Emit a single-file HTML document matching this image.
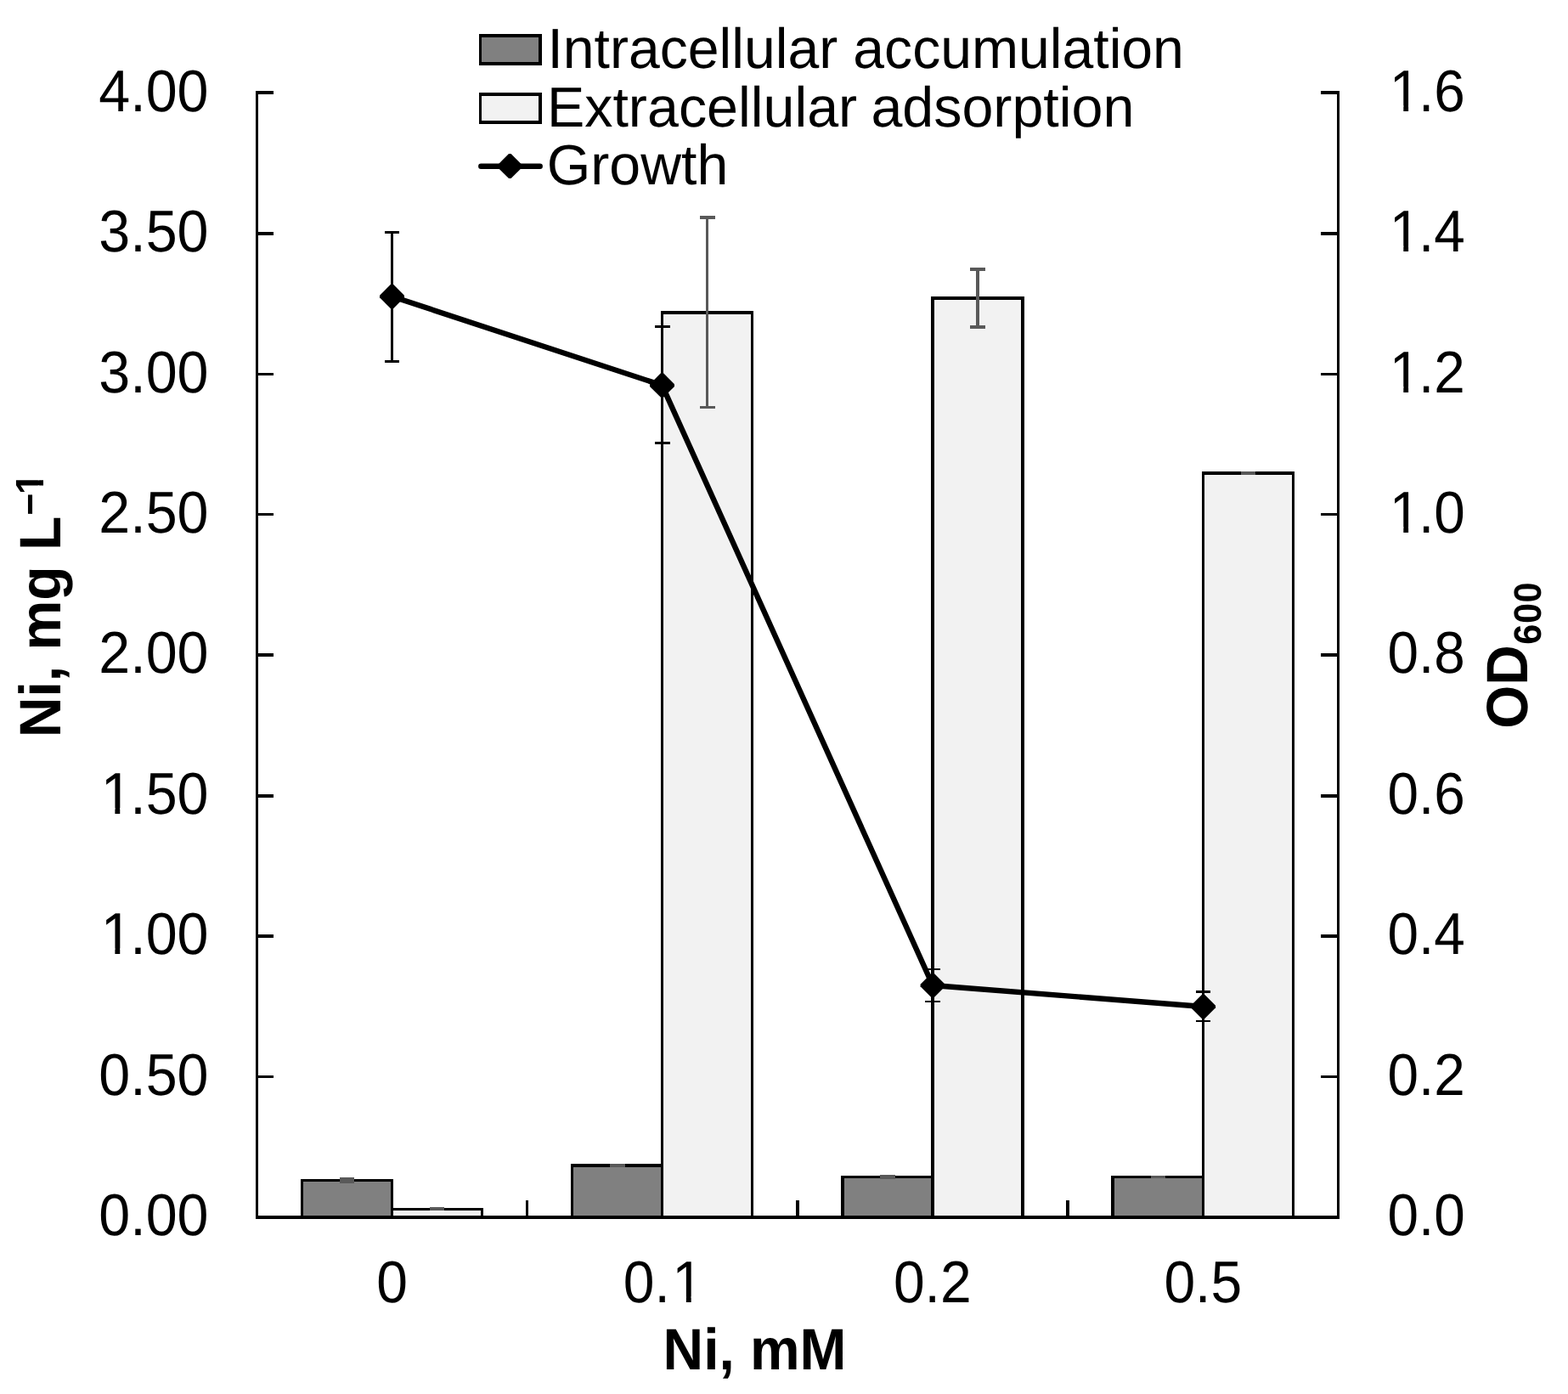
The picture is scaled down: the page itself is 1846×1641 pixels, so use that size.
<!DOCTYPE html>
<html lang="en">
<head>
<meta charset="utf-8">
<title>Ni accumulation, adsorption and growth</title>
<style>
html,body{margin:0;padding:0;background:#fff;}
body{width:1846px;height:1641px;overflow:hidden;}
svg{display:block;}
text{font-family:"Liberation Sans",sans-serif;font-size:66.67px;fill:#000;font-kerning:none;text-rendering:geometricPrecision;white-space:pre;}
.b{font-weight:bold;}
.edge{shape-rendering:crispEdges;}
</style>
</head>
<body>
<svg width="1846" height="1641" viewBox="0 0 1846 1641">
<rect x="0" y="0" width="1846" height="1641" fill="#fff"/>
<defs>
<clipPath id="one-a"><path clip-rule="evenodd" d="M-3000,-3000H5000V3000H-3000ZM5.478,-6.481H19.165V3H5.478ZM25.057,-6.481H38.223V3H25.057Z"/></clipPath>
<clipPath id="one-b"><path clip-rule="evenodd" d="M-3000,-3000H5000V3000H-3000ZM61.08,-6.481H74.767V3H61.08ZM80.659,-6.481H93.825V3H80.659Z"/></clipPath>
<clipPath id="one-s"><path clip-rule="evenodd" d="M-3000,-3000H5000V3000H-3000ZM289.862,-25.585H299.575V-16.466H289.862ZM305.785,-25.585H314.924V-16.466H305.785Z"/></clipPath>
</defs>
<g id="bars" class="edge">
<rect x="354" y="1388" width="109" height="44" fill="#808080"/>
<rect x="354" y="1388" width="109" height="3"/>
<rect x="354" y="1388" width="3" height="44"/>
<rect x="460" y="1388" width="3" height="44"/>
<rect x="463" y="1422" width="106" height="10" fill="#f2f2f2"/>
<rect x="463" y="1422" width="106" height="3"/>
<rect x="566" y="1422" width="3" height="10"/>
<rect x="672" y="1370" width="109" height="62" fill="#808080"/>
<rect x="672" y="1370" width="109" height="4"/>
<rect x="672" y="1370" width="3" height="62"/>
<rect x="778" y="1370" width="3" height="62"/>
<rect x="778" y="366" width="109" height="1066" fill="#f2f2f2"/>
<rect x="778" y="366" width="109" height="4"/>
<rect x="778" y="366" width="3" height="1066"/>
<rect x="884" y="366" width="3" height="1066"/>
<rect x="990" y="1384" width="110" height="48" fill="#808080"/>
<rect x="990" y="1384" width="110" height="3"/>
<rect x="990" y="1384" width="4" height="48"/>
<rect x="1096" y="1384" width="4" height="48"/>
<rect x="1096" y="349" width="110" height="1083" fill="#f2f2f2"/>
<rect x="1096" y="349" width="110" height="4"/>
<rect x="1096" y="349" width="4" height="1083"/>
<rect x="1202" y="349" width="4" height="1083"/>
<rect x="1308" y="1384" width="110" height="48" fill="#808080"/>
<rect x="1308" y="1384" width="110" height="3"/>
<rect x="1308" y="1384" width="4" height="48"/>
<rect x="1415" y="1384" width="3" height="48"/>
<rect x="1415" y="555" width="109" height="877" fill="#f2f2f2"/>
<rect x="1415" y="555" width="109" height="4"/>
<rect x="1415" y="555" width="3" height="877"/>
<rect x="1521" y="555" width="3" height="877"/>
</g>
<g id="axes" class="edge">
<rect x="301" y="107" width="3" height="1328"/>
<rect x="1574" y="107" width="3" height="1328"/>
<rect x="301" y="1431" width="1276" height="4"/>
<rect x="304" y="107" width="18" height="4"/>
<rect x="1555" y="107" width="19" height="4"/>
<rect x="304" y="273" width="18" height="4"/>
<rect x="1555" y="273" width="19" height="4"/>
<rect x="304" y="439" width="18" height="3"/>
<rect x="1555" y="439" width="19" height="3"/>
<rect x="304" y="604" width="18" height="3"/>
<rect x="1555" y="604" width="19" height="3"/>
<rect x="304" y="769" width="18" height="4"/>
<rect x="1555" y="769" width="19" height="4"/>
<rect x="304" y="935" width="18" height="4"/>
<rect x="1555" y="935" width="19" height="4"/>
<rect x="304" y="1100" width="18" height="4"/>
<rect x="1555" y="1100" width="19" height="4"/>
<rect x="304" y="1266" width="18" height="3"/>
<rect x="1555" y="1266" width="19" height="3"/>
<rect x="619" y="1413" width="3" height="18"/>
<rect x="937" y="1413" width="4" height="18"/>
<rect x="1255" y="1413" width="4" height="18"/>
</g>
<g id="bar-error-bars" class="edge" fill="#595959">
<rect x="400" y="1386" width="17" height="7"/>
<rect x="506" y="1421" width="17" height="4"/>
<rect x="718" y="1370" width="18" height="4"/>
<rect x="1036" y="1383" width="18" height="5"/>
<rect x="1355" y="1384" width="17" height="3"/>
<rect x="1461" y="555" width="17" height="4"/>
<rect x="831" y="254" width="3" height="227"/>
<rect x="824" y="254" width="18" height="4"/>
<rect x="824" y="478" width="18" height="3"/>
<rect x="1149" y="315" width="4" height="72"/>
<rect x="1142" y="315" width="18" height="4"/>
<rect x="1142" y="383" width="18" height="4"/>
</g>
<g id="growth-error-bars" class="edge">
<rect x="460" y="272" width="3" height="155"/>
<rect x="453" y="272" width="17" height="3"/>
<rect x="453" y="424" width="17" height="3"/>
<rect x="778" y="383" width="3" height="140"/>
<rect x="771" y="383" width="18" height="3"/>
<rect x="771" y="520" width="18" height="3"/>
<rect x="1096" y="1140" width="4" height="40"/>
<rect x="1089" y="1140" width="18" height="2"/>
<rect x="1089" y="1178" width="18" height="2"/>
<rect x="1415" y="1166" width="3" height="37"/>
<rect x="1408" y="1166" width="17" height="3"/>
<rect x="1408" y="1201" width="17" height="2"/>
</g>
<g id="growth-series">
<polyline points="461.5,349 779.5,453.6 1098.1,1160 1416.6,1185" fill="none" stroke="#000" stroke-width="6.4" stroke-linejoin="round" stroke-linecap="round"/>
<polygon points="460.2,334.5 462.8,334.5 476,347.7 476,350.3 462.8,363.5 460.2,363.5 447,350.3 447,347.7"/>
<polygon points="778.2,439.1 780.8,439.1 794,452.3 794,454.9 780.8,468.1 778.2,468.1 765,454.9 765,452.3"/>
<polygon points="1096.8,1145.5 1099.4,1145.5 1112.6,1158.7 1112.6,1161.3 1099.4,1174.5 1096.8,1174.5 1083.6,1161.3 1083.6,1158.7"/>
<polygon points="1415.3,1170.5 1417.9,1170.5 1431.1,1183.7 1431.1,1186.3 1417.9,1199.5 1415.3,1199.5 1402.1,1186.3 1402.1,1183.7"/>
</g>
<g id="legend">
<g class="edge">
<rect x="564" y="40" width="74" height="37"/>
<rect x="567" y="44" width="67" height="29" fill="#808080"/>
<rect x="564" y="109" width="74" height="37"/>
<rect x="567" y="113" width="67" height="29" fill="#f2f2f2"/>
</g>
<line x1="566.3" y1="195.8" x2="635.7" y2="195.8" stroke="#000" stroke-width="6.4" stroke-linecap="round"/>
<polygon points="599,181.1 601.6,181.1 614.8,194.3 614.8,196.9 601.6,210.1 599,210.1 585.8,196.9 585.8,194.3"/>
<text transform="translate(644.427,80) scale(0.992,1)">Intracellular<tspan dx="-0.284"> accumulation</tspan></text>
<text transform="translate(643.938,148.9) scale(0.996,1)">Extracellular<tspan dx="-2.289"> adsorption</tspan></text>
<text transform="translate(643.768,216.8) scale(0.994,1)">Growth</text>
</g>
<g id="y-left-tick-labels">
<text transform="translate(116.305,130.9) scale(0.996,1.04)">4.00</text>
<text transform="translate(116.305,296.29) scale(0.996,1.04)">3.50</text>
<text transform="translate(116.305,461.68) scale(0.996,1.04)">3.00</text>
<text transform="translate(116.305,627.07) scale(0.996,1.04)">2.50</text>
<text transform="translate(116.305,792.46) scale(0.996,1.04)">2.00</text>
<text clip-path="url(#one-a)" dx="2.4 -2.4" transform="translate(116.305,957.85) scale(0.996,1.04)">1.50</text>
<text clip-path="url(#one-a)" dx="2.4 -2.4" transform="translate(116.305,1123.24) scale(0.996,1.04)">1.00</text>
<text transform="translate(116.305,1288.63) scale(0.996,1.04)">0.50</text>
<text transform="translate(116.305,1454.02) scale(0.996,1.04)">0.00</text>
</g>
<g id="y-right-tick-labels">
<text clip-path="url(#one-a)" dx="2.4 -2.4" transform="translate(1633.434,130.9) scale(0.985,1.04)">1.6</text>
<text clip-path="url(#one-a)" dx="2.4 -2.4" transform="translate(1633.434,296.29) scale(0.985,1.04)">1.4</text>
<text clip-path="url(#one-a)" dx="2.4 -2.4" transform="translate(1633.434,461.68) scale(0.985,1.04)">1.2</text>
<text clip-path="url(#one-a)" dx="2.4 -2.4" transform="translate(1633.434,627.07) scale(0.985,1.04)">1.0</text>
<text transform="translate(1633.434,792.46) scale(0.985,1.04)">0.8</text>
<text transform="translate(1633.434,957.85) scale(0.985,1.04)">0.6</text>
<text transform="translate(1633.434,1123.24) scale(0.985,1.04)">0.4</text>
<text transform="translate(1633.434,1288.63) scale(0.985,1.04)">0.2</text>
<text transform="translate(1633.434,1454.02) scale(0.985,1.04)">0.0</text>
</g>
<g id="x-tick-labels">
<text transform="translate(443.146,1533) scale(0.99,1.04)">0</text>
<text clip-path="url(#one-b)" dx="0 0 2.4" transform="translate(733.822,1533) scale(0.99,1.04)">0.1</text>
<text transform="translate(1051.922,1533) scale(0.99,1.04)">0.2</text>
<text transform="translate(1370.422,1533) scale(0.99,1.04)">0.5</text>
</g>
<g id="axis-titles">
<text class="b" transform="translate(780.596,1612) scale(0.988,1.03)">Ni, mM</text>
<text class="b" clip-path="url(#one-s)" transform="translate(71.05,868.319) rotate(-90) scale(0.991,1.03)">Ni, mg L<tspan font-size="45.262px" dx="1.016 -1.407" dy="-19.466">−1</tspan></text>
<text class="b" transform="translate(1798.1,857.692) rotate(-90) scale(0.984,1.03)">OD<tspan font-size="43.969px" dx="0.568 0.58 0.58" dy="15.243">600</tspan></text>
</g>
</svg>
</body>
</html>
